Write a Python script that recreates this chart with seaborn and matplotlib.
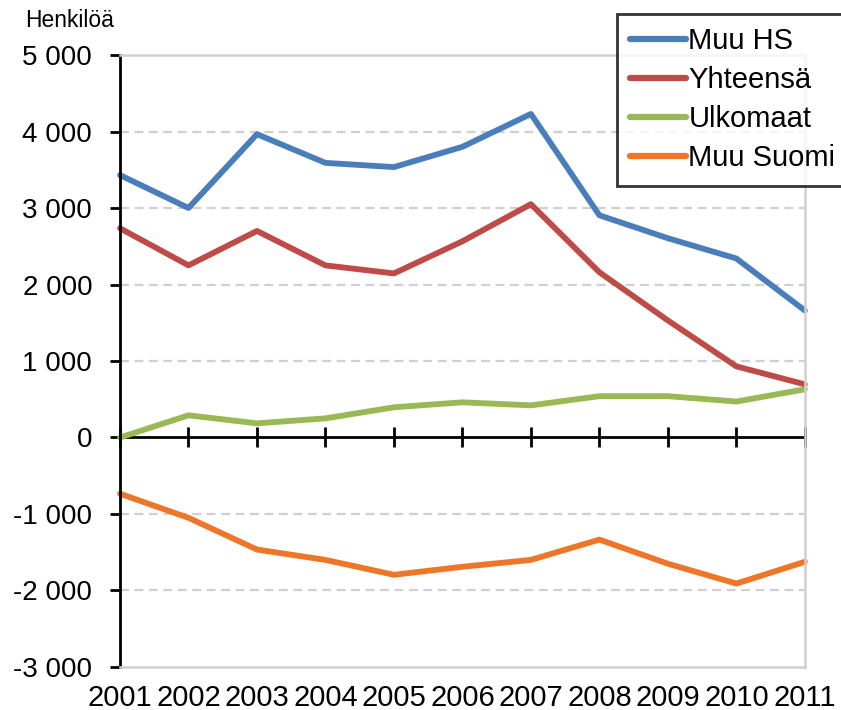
import pandas as pd
import matplotlib.pyplot as plt
import seaborn as sns
from matplotlib.ticker import FuncFormatter, MultipleLocator

# Data

years = [2001, 2002, 2003, 2004, 2005, 2006, 2007, 2008, 2009, 2010, 2011]

muu_hs = [3430, 3000, 3965, 3590, 3535, 3800, 4230, 2905, 2605, 2340, 1660]
yhteensa = [2735, 2250, 2700, 2250, 2145, 2565, 3050, 2160, 1530, 930, 695]
ulkomaat = [0, 290, 185, 250, 395, 460, 420, 540, 540, 470, 630]
muu_suomi = [-735, -1050, -1465, -1600, -1795, -1690, -1600, -1335, -1650, -1910, -1625]

series_names = ["Muu HS", "Yhteensä", "Ulkomaat", "Muu Suomi"]
colors = ["#4a7ebb", "#be4b48", "#98b954", "#ee7628"]

df = pd.DataFrame({
    "Vuosi": years * 4,
    "Henkilöä": muu_hs + yhteensa + ulkomaat + muu_suomi,
    "Sarja": sum([[n] * len(years) for n in series_names], [])
})

# Style

sns.set_style("white")
plt.rcParams["font.family"] = ["Liberation Sans", "DejaVu Sans"]
plt.rcParams["axes.unicode_minus"] = False
plt.rcParams["text.color"] = "black"
plt.rcParams["xtick.color"] = "black"
plt.rcParams["ytick.color"] = "black"

fig = plt.figure(figsize=(8.41, 7.10), dpi=100)
ax = fig.add_axes([0.1427, 0.0606, 0.8143, 0.8619])

sns.lineplot(
    data=df,
    x="Vuosi",
    y="Henkilöä",
    hue="Sarja",
    hue_order=series_names,
    palette=colors,
    linewidth=4.2,
    ax=ax,
    legend=False
)
for line in ax.lines:
    line.set_clip_on(False)

ax.set_xlim(2001, 2011)
ax.set_ylim(-3000, 5000)
ax.set_xticks(years)
ax.set_xticklabels([str(y) for y in years], fontsize=21)
ax.yaxis.set_major_locator(MultipleLocator(1000))
ax.yaxis.set_major_formatter(
    FuncFormatter(lambda v, p: f"{v:,.0f}".replace(",", " "))
)
ax.tick_params(axis="y", labelsize=20, direction="out", length=7,
               width=2, color="black", labelcolor="black", left=True, pad=13)
ax.tick_params(axis="x", length=0, pad=12, labelcolor="black")
ax.set_xlabel("")
ax.set_ylabel("")

# Grid lines
for v in range(-2000, 5000, 1000):
    if v != 0:
        ax.axhline(v, color="#d0d0d0", linewidth=1.6, linestyle=(0, (4, 2.5)), zorder=0)

for side in ["top", "right", "bottom"]:
    ax.spines[side].set_color("#d0d0d0")
    ax.spines[side].set_linewidth(1.8)
ax.spines["left"].set_color("black")
ax.spines["left"].set_linewidth(2)

# Zero line with ticks
ax2 = ax.twiny()
ax2.set_xlim(2001, 2011)
ax2.set_xticks(years)
ax2.xaxis.set_ticks_position("bottom")
ax2.spines["bottom"].set_position(("data", 0))
ax2.spines["bottom"].set_color("black")
ax2.spines["bottom"].set_linewidth(2)
for side in ["top", "right", "left"]:
    ax2.spines[side].set_visible(False)
ax2.tick_params(axis="x", direction="inout", length=14, width=2,
                labelbottom=False, labeltop=False, top=False)
ax2.set_zorder(0)
ax.set_zorder(1)
ax.patch.set_visible(False)

fig.text(25 / 841, 1 - 27 / 710, "Henkilöä", fontsize=16.5, va="baseline")

handles = [plt.Line2D([], [], color=c, linewidth=4.5, solid_capstyle="round") for c in colors]
leg = fig.legend(
    handles,
    series_names,
    loc="upper left",
    bbox_to_anchor=(617 / 841, 1 - 14 / 710),
    fontsize=21,
    frameon=True,
    fancybox=False,
    edgecolor="black",
    handlelength=1.9,
    handletextpad=0.1,
    labelspacing=0.38,
    borderaxespad=0,
    borderpad=0.45
)
leg.get_frame().set_linewidth(2)

plt.savefig("out.png", dpi=100)
plt.close()
